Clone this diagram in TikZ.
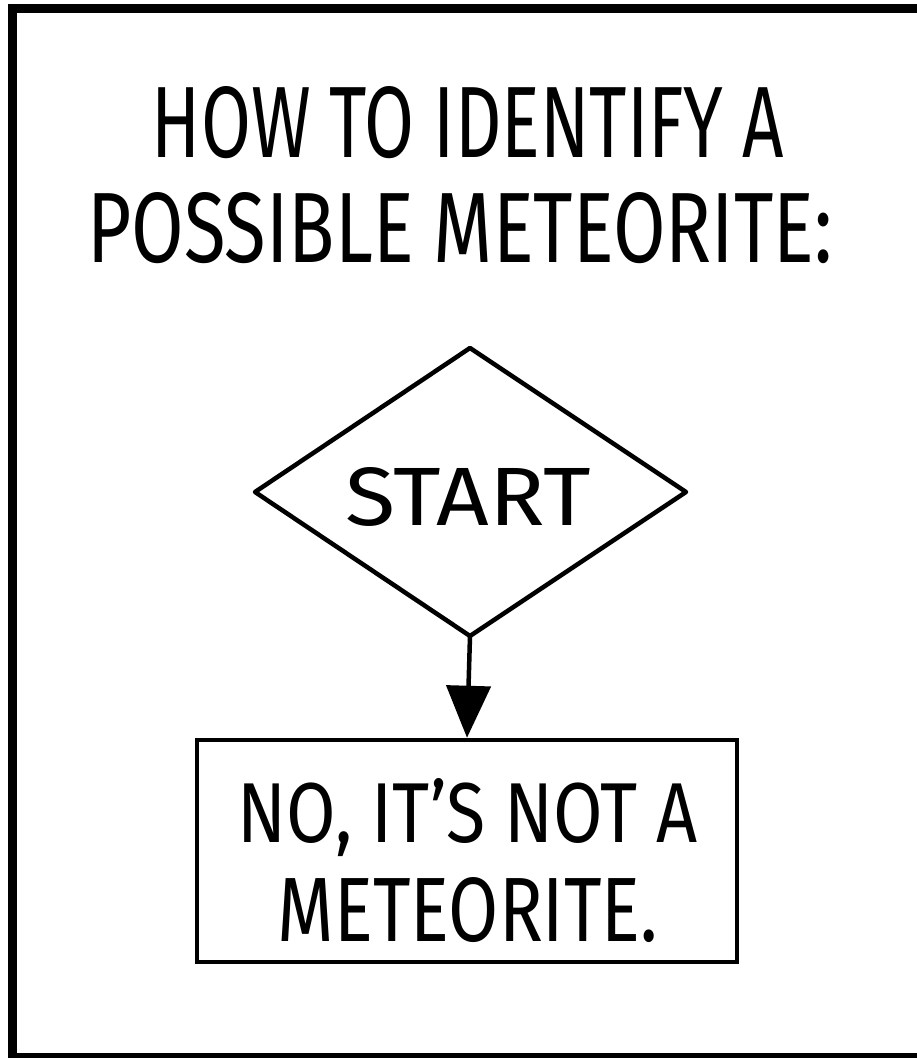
\documentclass[tikz,border=0pt]{standalone}
\usepackage{fontspec}
\setmainfont{Fira Sans}
\usepackage{graphicx}
\usetikzlibrary{arrows.meta}
\tikzset{
  ink/.style={line width=4.5pt, line join=round, line cap=round},
  txt/.style={inner sep=0pt, outer sep=0pt, anchor=base},
  tip/.style={-{Triangle[length=52pt,width=44pt]}}
}
\begin{document}
\begin{tikzpicture}[x=1pt,y=-1pt]
\useasboundingbox (0,0) rectangle (917,1058);
\begin{scope}
\clip (0,0) rectangle (917,1058);
\draw[line width=9pt] (12.5,8.5) rectangle (930,1057);
\end{scope}
% title
\node[txt] (t1) at (468,157) {\resizebox{632pt}{71pt}{HOW TO IDENTIFY A}};
\node[txt] (t2) at (460,262) {\resizebox{745pt}{70pt}{POSSIBLE METEORITE:}};
% diamond
\coordinate (dt) at (470,348);
\coordinate (dl) at (255,492);
\coordinate (dr) at (686,492);
\coordinate (db) at (470,636);
\draw[ink] (dt) -- (dr) -- (db) -- (dl) -- cycle;
\node[txt] (start) at (468,525) {\resizebox{245pt}{58pt}{START}};
% box
\node[draw, line width=4.5pt, minimum width=540pt, minimum height=222pt, inner sep=0pt] (box) at (467,851) {};
\node[txt] (b1) at (468,842) {\resizebox{460pt}{64pt}{NO, IT'S NOT A}};
\node[txt] (b2) at (468,941) {\resizebox{380pt}{64pt}{METEORITE.}};
% arrow
\draw[ink, tip] (db) -- (box.north);
\end{tikzpicture}
\end{document}
